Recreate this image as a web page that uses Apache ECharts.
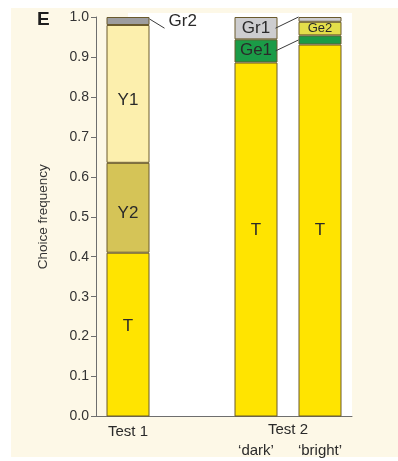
<!DOCTYPE html>
<html>
<head>
<meta charset="utf-8">
<script src="https://cdn.jsdelivr.net/npm/echarts@6/dist/echarts.min.js"></script>
<style>
  html, body { margin: 0; padding: 0; background: #ffffff; }
  #chart { width: 398px; height: 461px; }
</style>
</head>
<body>
<div id="chart"></div>
<script>
// Choice frequencies per test condition (stacked segments sum to 1.0)
const categories = ['Test 1', '', '\n\u2018dark\u2019', '\n\u2018bright\u2019'];
const groupLabel = 'Test 2';
const yTicks = [0, 1, 0.1];            // min, max, step

const seriesNames = ['T', 'Y2', 'Y1', 'Gr2', 'Ge1', 'Ge2', 'Gr1'];
const valuesT   = [0.410, null, 0.886, 0.931];
const valuesY2  = [0.225, null, null,  null ];
const valuesY1  = [0.345, null, null,  null ];
const valuesGr2 = [0.020, null, null,  null ];
const valuesGe1 = [null,  null, 0.058, 0.023];
const valuesGe2 = [null,  null, null,  0.034];
const valuesGr1 = [null,  null, 0.056, 0.012];

const FONT = 'Liberation Sans, Arial, Helvetica, sans-serif';
const TEXT = '#2a2a2a';
const colors = {
  T: '#ffe400', Y2: '#d5c457', Y1: '#fcefad', Gr2: '#9d9d9f',
  Ge1: '#1b9b47', Ge2: '#e4de4a', Gr1: '#cdcdcf'
};
// which category shows each segment's name, with a vertical nudge for the text
const labelAt = {
  T: { 0: -8, 2: -9, 3: 0 }, Y2: { 0: 6 }, Y1: { 0: 6 }, Gr2: { 0: 0 },
  Ge1: { 2: -1 }, Ge2: { 3: 0 }, Gr1: { 2: 0 }
};
const dataBy = {
  T: valuesT, Y2: valuesY2, Y1: valuesY1, Gr2: valuesGr2,
  Ge1: valuesGe1, Ge2: valuesGe2, Gr1: valuesGr1
};

const chart = echarts.init(document.getElementById('chart'), null, { renderer: 'canvas' });

function buildSeries(name) {
  const vals = dataBy[name];
  return {
    name: name,
    type: 'bar',
    stack: 'freq',
    barWidth: 43,
    itemStyle: { color: colors[name], borderColor: '#6a5a2c', borderWidth: 1 },
    data: vals.map(function (v, i) {
      const nudge = labelAt[name][i];
      const item = { value: v };
      if (nudge !== undefined && v != null) {
        if (name === 'Gr2') {
          item.label = {
            show: true, position: 'right', distance: 19,
            formatter: name, fontSize: 17, color: TEXT, fontFamily: FONT
          };
        } else {
          item.label = {
            show: true, position: 'inside', formatter: name,
            offset: [0, nudge],
            fontSize: name === 'Ge2' ? 13 : 17,
            color: TEXT, fontFamily: FONT
          };
        }
      }
      return item;
    }),
    emphasis: { disabled: true },
    animation: false
  };
}

const option = {
  animation: false,
  grid: { left: 96, right: 46, top: 17, bottom: 44.5, containLabel: false },
  xAxis: {
    type: 'category',
    data: categories,
    boundaryGap: true,
    axisLine: { show: true, lineStyle: { color: '#6e6e6e', width: 1 } },
    axisTick: { show: false },
    axisLabel: {
      interval: 0, margin: 6, fontSize: 15, lineHeight: 19,
      color: TEXT, fontFamily: FONT
    }
  },
  yAxis: {
    type: 'value',
    min: yTicks[0], max: yTicks[1], interval: yTicks[2],
    name: 'Choice frequency',
    nameLocation: 'middle',
    nameGap: 46,
    nameRotate: 90,
    nameTextStyle: { fontSize: 13.5, color: '#333', fontFamily: FONT },
    splitLine: { show: false },
    axisLine: { show: true, lineStyle: { color: '#6e6e6e', width: 1 } },
    axisTick: { show: true, inside: false, length: 5, lineStyle: { color: '#6e6e6e' } },
    axisLabel: {
      margin: 7, fontSize: 14, color: '#333', fontFamily: FONT,
      formatter: function (v) { return v.toFixed(1); }
    }
  },
  series: seriesNames.map(buildSeries)
};

chart.setOption(option);

// Background panels, panel letter, group label and leader lines
function px(cat, val) { return chart.convertToPixel({ gridIndex: 0 }, [cat, val]); }
const half = 43 / 2;
const originPt = px(0, 0);
const topPt = px(0, 1);
const rightEnd = chart.convertToPixel({ xAxisIndex: 0 }, 3) + 32;

// Test 2 group label centred between its two bars
const midX = (px(2, 0)[0] + px(3, 0)[0]) / 2;

// cumulative tops for leader line anchors
const test1Top = valuesT[0] + valuesY2[0] + valuesY1[0];
const darkGeMid = valuesT[2] + valuesGe1[2] / 2;
const darkGrMid = valuesT[2] + valuesGe1[2] + valuesGr1[2] / 2;
const brightGeMid = valuesT[3] + valuesGe1[3] / 2;
const brightTop = valuesT[3] + valuesGe1[3] + valuesGe2[3] + valuesGr1[3];

const gr2Start = px(0, test1Top + valuesGr2[0] * 0.75);
const gr2End = px(0, test1Top - 0.003);
const darkRight = px(2, 0)[0] + half - 2;
const brightLeft = px(3, 0)[0] - half;

const lineStyle = { stroke: '#3a3a3a', lineWidth: 1 };

chart.setOption({
  graphic: [
    { type: 'rect', z: -10, silent: true,
      shape: { x: 11, y: 8, width: 387, height: 449 },
      style: { fill: '#fdf8e7' } },
    { type: 'rect', z: -9, silent: true,
      shape: { x: originPt[0], y: topPt[1] - 4, width: rightEnd - originPt[0], height: originPt[1] - topPt[1] + 4 },
      style: { fill: '#ffffff' } },
    { type: 'text', x: 37, y: 10, z: 10,
      style: { text: 'E', fill: '#1e1e1e', font: 'bold 19px ' + FONT } },
    { type: 'text', x: midX, y: originPt[1] + 6, z: 10,
      style: { text: groupLabel, fill: TEXT, font: '15px ' + FONT, textAlign: 'center', textVerticalAlign: 'top' } },
    { type: 'line', z: 10, shape: { x1: gr2Start[0] + half, y1: gr2Start[1], x2: gr2Start[0] + half + 15, y2: gr2End[1] + 2 },
      style: lineStyle },
    { type: 'line', z: 10, shape: { x1: darkRight, y1: px(2, darkGrMid)[1], x2: brightLeft, y2: px(3, brightTop)[1] },
      style: lineStyle },
    { type: 'line', z: 10, shape: { x1: darkRight, y1: px(2, darkGeMid)[1], x2: brightLeft, y2: px(3, brightGeMid)[1] },
      style: lineStyle }
  ]
});
</script>
</body>
</html>
